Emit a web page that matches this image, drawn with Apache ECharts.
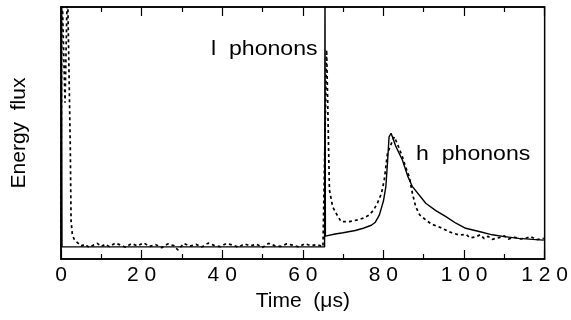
<!DOCTYPE html>
<html><head><meta charset="utf-8">
<script src="https://cdn.jsdelivr.net/npm/echarts@6/dist/echarts.min.js"></script>
<style>html,body{margin:0;padding:0;background:#fff}#c{width:571px;height:320px}</style>
</head><body><div id="c"></div>
<script>
// x tick labels (µs)
const xTicks = [0, 20, 40, 60, 80, 100, 120];
// solid curve: time (µs) and energy flux (arb. units, 0-100 frame)
const solidT = [0.1, 0.25, 10, 20, 30, 40, 50, 60, 65.4, 65.5, 65.6, 68, 70, 73, 75, 77, 78, 79, 80, 80.6, 81, 81.4, 81.9, 83, 84.7, 86, 87.2, 90.5, 93, 95.5, 98, 100.4, 104, 107, 110, 113.6, 117, 119.8];
const solidV = [110, 4.8, 4.8, 4.8, 4.8, 4.8, 4.8, 4.8, 4.8, 110, 9.1, 9.9, 10.4, 11.3, 12.2, 13.4, 14.6, 17.5, 23, 28.7, 38, 48.5, 49.9, 45, 39.3, 33, 28.7, 22.1, 19.2, 16.8, 14.2, 12.2, 10.8, 9.6, 8.9, 8.2, 7.8, 7.5];
// dashed curve
const dashT = [0, 0.2, 0.6, 1.0, 1.6, 2.0, 2.3, 2.5, 2.8, 3.2, 3.7, 4.3, 5, 6, 7, 8, 9, 10, 11, 12, 13.5, 15, 16, 17.5, 19, 20.5, 22, 23.5, 25, 26.5, 28, 29, 30.5, 32, 33.5, 35, 36.5, 38, 39.5, 41, 42.5, 44, 45.5, 47, 48.5, 50, 51.5, 53, 54.5, 56, 57.5, 59, 60.5, 62, 63.5, 65, 65.9, 66.2, 66.6, 67.4, 68.2, 69.5, 71.5, 73.6, 75, 76.5, 77.5, 78.5, 79.5, 80.2, 81, 82, 82.7, 83.5, 84.7, 85.5, 86.4, 87.2, 88, 89, 90.5, 92, 93.5, 94.6, 96, 97, 98.8, 100.5, 101.5, 102.9, 104, 105, 106, 107, 108.7, 110, 111, 112.5, 114, 115.3, 116.5, 118, 119.8];
const dashV = [5, 110, 110, 62, 110, 110, 45, 15, 10, 8, 7, 6.2, 5.2, 5.8, 4.6, 5.5, 6.2, 5.0, 5.9, 4.9, 6.3, 5.4, 4.7, 6.1, 5.2, 6.4, 5.0, 5.7, 4.5, 6.0, 5.3, 3.6, 6.2, 5.1, 5.8, 4.8, 6.3, 5.4, 4.9, 6.1, 5.6, 4.7, 6.0, 5.2, 5.9, 4.6, 6.2, 5.3, 5.0, 6.0, 5.5, 4.8, 6.1, 5.3, 5.7, 4.9, 83, 60, 27.4, 20.8, 18.3, 14.8, 14.8, 15.5, 16.2, 17.5, 19.3, 22.1, 26, 31.3, 41.9, 46, 48.5, 45.5, 40.6, 36.5, 32.7, 26, 20.8, 17.5, 15.5, 13.8, 12.9, 12.2, 11.0, 10.4, 9.5, 9.8, 8.4, 8.8, 9.6, 8.1, 9.0, 7.8, 8.5, 9.2, 7.9, 8.6, 8.0, 8.2, 8.9, 7.7, 8.2];

const solidData = solidT.map((t, i) => [t, solidV[i]]);
const dashData = dashT.map((t, i) => [t, dashV[i]]);
const FONT = 'Liberation Sans, Arial, sans-serif';

const chart = echarts.init(document.getElementById('c'), null, {renderer: 'canvas'});
chart.setOption({
  animation: false,
  backgroundColor: '#fff',
  grid: {left: 61, right: 25, top: 7, bottom: 61, show: true, borderColor: '#000', borderWidth: 1.5, backgroundColor: 'transparent'},
  xAxis: [{
    type: 'value', min: 0, max: 120, interval: 20, position: 'bottom',
    axisLine: {show: true, lineStyle: {color: '#000', width: 1.5}},
    axisTick: {show: true, inside: true, length: 9, lineStyle: {color: '#000', width: 1.2}},
    minorTick: {show: true, splitNumber: 2, length: 5, lineStyle: {color: '#000', width: 1.2}},
    splitLine: {show: false},
    axisLabel: {color: '#000', fontSize: 21, fontFamily: FONT, margin: 6,
      formatter: v => xTicks.includes(v) ? String(v).split('').join(' ') : ''},
    name: 'Time  (\u03bcs)', nameLocation: 'middle', nameGap: 32,
    nameTextStyle: {color: '#000', fontSize: 21, fontFamily: FONT}
  }, {
    type: 'value', min: 0, max: 120, interval: 20, position: 'top',
    axisLine: {show: true, lineStyle: {color: '#000', width: 1.5}},
    axisTick: {show: true, inside: true, length: 9, lineStyle: {color: '#000', width: 1.2}},
    minorTick: {show: true, splitNumber: 2, length: 5, lineStyle: {color: '#000', width: 1.2}},
    splitLine: {show: false}, axisLabel: {show: false}
  }],
  yAxis: {
    type: 'value', min: 0, max: 100,
    axisLine: {show: true, lineStyle: {color: '#000', width: 1.5}},
    axisTick: {show: false}, axisLabel: {show: false}, splitLine: {show: false},
    name: 'Energy  flux', nameLocation: 'middle', nameGap: 31, nameRotate: 90,
    nameTextStyle: {color: '#000', fontSize: 21, fontFamily: FONT}
  },
  series: [{
    type: 'line', data: dashData, xAxisIndex: 0, showSymbol: false, symbol: 'none', clip: true,
    lineStyle: {color: '#000', width: 1.7, type: [3, 3]}
  }, {
    type: 'line', data: solidData, xAxisIndex: 0, showSymbol: false, symbol: 'none', clip: true,
    lineStyle: {color: '#000', width: 1.4, type: 'solid'}
  }],
  graphic: [
    {type: 'text', x: 211, y: 39, scaleX: 1.1, style: {text: 'l  phonons', font: '21px ' + FONT, fill: '#000', textVerticalAlign: 'top'}},
    {type: 'text', x: 416, y: 144, scaleX: 1.1, style: {text: 'h  phonons', font: '21px ' + FONT, fill: '#000', textVerticalAlign: 'top'}}
  ]
});
</script></body></html>
